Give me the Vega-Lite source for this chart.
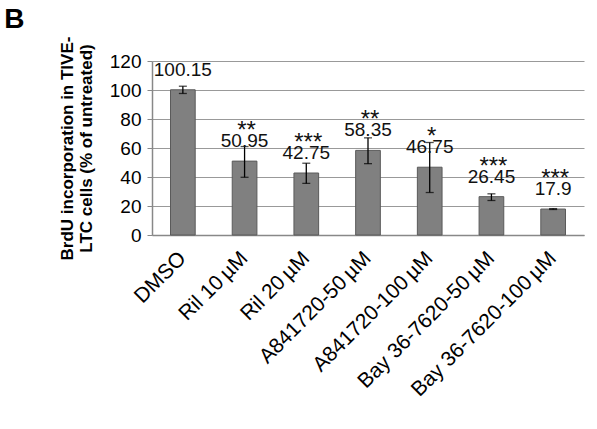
{
  "$schema": "https://vega.github.io/schema/vega-lite/v6.json",
  "width": 432,
  "height": 174,
  "autosize": "none",
  "padding": {"left": 152, "top": 61, "right": 13, "bottom": 194},
  "background": "white",
  "title": {"text": "B", "anchor": "start", "frame": "bounds", "fontSize": 28, "fontWeight": "bold", "font": "Liberation Sans", "color": "black", "dx": -54, "dy": 2},
  "config": {"view": {"stroke": null}, "font": "Liberation Sans",
    "axisY": {"tickCount": 7, "labelOverlap": false, "titleFontSize": 17, "titleFontWeight": "bold", "titleColor": "black", "titlePadding": 14, "labelFontSize": 19, "labelColor": "black", "labelPadding": 6, "tickSize": 5, "tickColor": "#888", "domainColor": "#888", "domainWidth": 1.5, "gridColor": "#999", "gridWidth": 1.2, "gridOpacity": 1}},
  "data": {"values": [
    {"group": "DMSO", "value": 100.15, "lo": 97.6, "hi": 102.6, "sig": ""},
    {"group": "Ril 10\u2009µM", "value": 50.95, "lo": 39.8, "hi": 61.0, "sig": "**"},
    {"group": "Ril 20\u2009µM", "value": 42.75, "lo": 35.6, "hi": 49.5, "sig": "***"},
    {"group": "A841720-50\u2009µM", "value": 58.35, "lo": 49.2, "hi": 67.0, "sig": "**"},
    {"group": "A841720-100\u2009µM", "value": 46.75, "lo": 29.3, "hi": 63.8, "sig": "*"},
    {"group": "Bay 36-7620-50\u2009µM", "value": 26.45, "lo": 23.8, "hi": 28.4, "sig": "***"},
    {"group": "Bay 36-7620-100\u2009µM", "value": 17.9, "lo": 17.6, "hi": 18.2, "sig": "***"}
  ]},
  "encoding": {
    "x": {"field": "group", "type": "nominal", "sort": null,
      "scale": {"paddingInner": 0.6, "paddingOuter": 0.3},
      "axis": {"title": null, "labelAngle": -45, "labelAlign": "right", "labelBaseline": "middle", "labelFontSize": 21, "labelColor": "black", "labelPadding": 20, "labelOverlap": false, "labelLimit": 300, "ticks": false, "domainColor": "#888", "domainWidth": 1.5}}
  },
  "layer": [
    {"mark": {"type": "bar", "color": "#808080", "stroke": "#5a5a5a", "strokeWidth": 1},
     "encoding": {"y": {"field": "value", "type": "quantitative",
       "scale": {"domain": [0, 120]},
       "title": ["BrdU incorporation in TIVE-", "LTC cells (% of untreated)"]}}},
    {"mark": {"type": "rule", "color": "black", "strokeWidth": 1.3},
     "encoding": {"y": {"field": "lo", "type": "quantitative", "title": ["BrdU incorporation in TIVE-", "LTC cells (% of untreated)"]}, "y2": {"field": "hi"}}},
    {"mark": {"type": "tick", "color": "black", "size": 8, "thickness": 1.3},
     "encoding": {"y": {"field": "lo", "type": "quantitative", "title": ["BrdU incorporation in TIVE-", "LTC cells (% of untreated)"]}}},
    {"mark": {"type": "tick", "color": "black", "size": 8, "thickness": 1.3},
     "encoding": {"y": {"field": "hi", "type": "quantitative", "title": ["BrdU incorporation in TIVE-", "LTC cells (% of untreated)"]}}},
    {"mark": {"type": "text", "fontSize": 19, "color": "#111", "baseline": "middle", "dy": -20},
     "encoding": {"y": {"field": "value", "type": "quantitative", "title": ["BrdU incorporation in TIVE-", "LTC cells (% of untreated)"]}, "text": {"field": "value", "type": "nominal"}}},
    {"mark": {"type": "text", "fontSize": 24, "color": "#111", "baseline": "middle", "dy": -30, "dx": 2},
     "encoding": {"y": {"field": "value", "type": "quantitative", "title": ["BrdU incorporation in TIVE-", "LTC cells (% of untreated)"]}, "text": {"field": "sig", "type": "nominal"}}}
  ]
}
